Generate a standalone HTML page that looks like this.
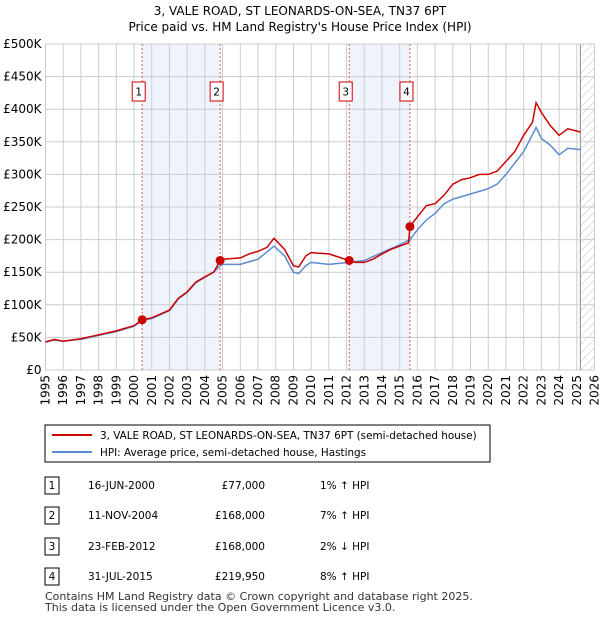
<!DOCTYPE html>
<html><head><meta charset="utf-8"><style>
body{margin:0;background:#fff;font-family:"Liberation Sans","DejaVu Sans",sans-serif;}
svg text{font-family:"DejaVu Sans","Liberation Sans",sans-serif;}
</style></head><body>
<svg width="600" height="620" viewBox="0 0 600 620" xmlns="http://www.w3.org/2000/svg">
<defs><pattern id="hatch" width="6" height="6" patternUnits="userSpaceOnUse" patternTransform="rotate(45)"><line x1="0" y1="0" x2="0" y2="6" stroke="#bbb" stroke-width="1"/></pattern></defs>
<text x="300" y="15" text-anchor="middle" font-size="12">3, VALE ROAD, ST LEONARDS-ON-SEA, TN37 6PT</text>
<text x="300" y="31" text-anchor="middle" font-size="12">Price paid vs. HM Land Registry's House Price Index (HPI)</text>
<g id="plot"></g>
<g id="legend">
<rect x="45" y="425" width="445" height="37" fill="#fff" stroke="#000" stroke-width="1"/>
<line x1="52" y1="435" x2="92" y2="435" stroke="#cc0000" stroke-width="2"/>
<text x="100" y="439" font-size="10.4">3, VALE ROAD, ST LEONARDS-ON-SEA, TN37 6PT (semi-detached house)</text>
<line x1="52" y1="452" x2="92" y2="452" stroke="#5b8bd0" stroke-width="2"/>
<text x="100" y="456" font-size="10.4">HPI: Average price, semi-detached house, Hastings</text>
</g>
<g id="table" font-size="10.5"></g>
<text x="45" y="600" font-size="11" fill="#333">Contains HM Land Registry data © Crown copyright and database right 2025.</text>
<text x="45" y="611" font-size="11" fill="#333">This data is licensed under the Open Government Licence v3.0.</text>
</svg>
<script>
const yTicks=[0,50,100,150,200,250,300,350,400,450,500];
const yLabels=["£0","£50K","£100K","£150K","£200K","£250K","£300K","£350K","£400K","£450K","£500K"];
const years=[1995,1996,1997,1998,1999,2000,2001,2002,2003,2004,2005,2006,2007,2008,2009,2010,2011,2012,2013,2014,2015,2016,2017,2018,2019,2020,2021,2022,2023,2024,2025,2026];
const saleDates=[2000.46,2004.86,2012.15,2015.58];
const salePrices=[77,168,168,219.95];
const saleLabels=["1","2","3","4"];
const saleDateText=["16-JUN-2000","11-NOV-2004","23-FEB-2012","31-JUL-2015"];
const salePriceText=["£77,000","£168,000","£168,000","£219,950"];
const saleHpiText=["1% ↑ HPI","7% ↑ HPI","2% ↓ HPI","8% ↑ HPI"];
const priceT=[1995,1995.5,1996,1996.5,1997,1998,1999,2000,2000.46,2001,2002,2002.5,2003,2003.5,2004,2004.5,2004.86,2005,2006,2006.5,2007,2007.5,2007.9,2008.5,2009,2009.3,2009.7,2010,2011,2012.15,2012.5,2013,2013.5,2014,2014.5,2015,2015.5,2015.58,2016,2016.5,2017,2017.5,2018,2018.5,2019,2019.5,2020,2020.5,2021,2021.5,2022,2022.5,2022.7,2023,2023.5,2024,2024.5,2025.2];
const priceV=[43,47,44,46,48,54,60,68,77,80,92,110,120,135,143,150,168,170,172,178,182,188,202,185,160,158,175,180,178,168,165,165,170,178,185,190,195,220,235,252,255,268,285,292,295,300,300,305,320,335,360,380,410,395,375,360,370,365];
const hpiT=[1995,1995.5,1996,1996.5,1997,1998,1999,2000,2000.46,2001,2002,2002.5,2003,2003.5,2004,2004.5,2004.86,2005,2006,2007,2007.9,2008.5,2009,2009.3,2009.7,2010,2011,2012.15,2013,2014,2015,2015.58,2016,2016.5,2017,2017.5,2018,2019,2020,2020.5,2021,2022,2022.7,2023,2023.5,2024,2024.5,2025.2];
const hpiV=[43,46,44,46,47,53,59,67,76,79,91,109,119,134,142,150,160,162,162,170,190,175,150,148,160,165,162,165,168,180,192,200,215,230,240,255,262,270,278,285,300,335,372,355,345,330,340,338];
const NS="http://www.w3.org/2000/svg";
const L=45.5,R=594.5,T=44,B=370;
const x=t=>L+(t-1995)*(R-L)/31;
const y=v=>B-v*(B-T)/500;
const plot=document.getElementById('plot');
function mk(tag,attrs,parent){const e=document.createElementNS(NS,tag);for(const k in attrs)e.setAttribute(k,attrs[k]);(parent||plot).appendChild(e);return e;}
for(let i=0;i<4;i+=2){const r=mk('rect',{x:x(saleDates[i]),y:T,width:x(saleDates[i+1])-x(saleDates[i]),height:B-T,fill:'#eef3fc'});

}
const h=mk('rect',{x:x(2025.2),y:T,width:R-x(2025.2),height:B-T,fill:'url(#hatch)'});


mk('line',{x1:x(2025.2),x2:x(2025.2),y1:T,y2:B,stroke:'#888','stroke-width':1});
yTicks.forEach((v,i)=>{mk('line',{x1:L,x2:R,y1:y(v),y2:y(v),stroke:'#ccc'});
const t=mk('text',{x:L-4,y:y(v)+4,'text-anchor':'end','font-size':12});t.textContent=yLabels[i];

});
years.forEach(yr=>{mk('line',{x1:x(yr),x2:x(yr),y1:T,y2:B,stroke:'#ccc'});
const t=mk('text',{x:0,y:0,'text-anchor':'end','font-size':12,transform:`translate(${x(yr)+4},${B+5}) rotate(-90)`});t.textContent=yr;

});
mk('rect',{x:L,y:T,width:R-L,height:B-T,fill:'none',stroke:'#ccc'});
saleDates.forEach((d,i)=>{mk('line',{x1:x(d),x2:x(d),y1:T,y2:B,stroke:'#e06060','stroke-dasharray':'2,2'});
const bx=x(d)-3.5-6.5;
const g=mk('g',{});


mk('rect',{x:bx,y:82,width:13,height:19,fill:'#fff',stroke:'#cc0000'},g);
const t=mk('text',{x:bx+6.5,y:95.5,'text-anchor':'middle','font-size':10.5},g);t.textContent=saleLabels[i];});
function line(T_,V,color,name){const p=mk('path',{d:T_.map((t,i)=>(i?'L':'M')+x(t).toFixed(1)+','+y(V[i]).toFixed(1)).join(''),fill:'none',stroke:color,'stroke-width':1.5});

}
line(hpiT,hpiV,'#5b8bd0','hpi-line');
line(priceT,priceV,'#cc0000','price-line');
saleDates.forEach((d,i)=>{const c=mk('circle',{cx:x(d),cy:y(salePrices[i]),r:4.5,fill:'#cc0000'});

});
const tb=document.getElementById('table');
const rowsY=[485,515,546,576];
saleLabels.forEach((s,i)=>{const g=mk('g',{},tb);


mk('rect',{x:45,y:rowsY[i]-8,width:14,height:17,fill:'#fff',stroke:'#000'},g);
let t=mk('text',{x:52,y:rowsY[i]+4,'text-anchor':'middle'},g);t.textContent=s;
t=mk('text',{x:88,y:rowsY[i]+4},g);t.textContent=saleDateText[i];
t=mk('text',{x:265,y:rowsY[i]+4,'text-anchor':'end'},g);t.textContent=salePriceText[i];
t=mk('text',{x:320,y:rowsY[i]+4},g);t.textContent=saleHpiText[i];});
</script>
</body></html>
